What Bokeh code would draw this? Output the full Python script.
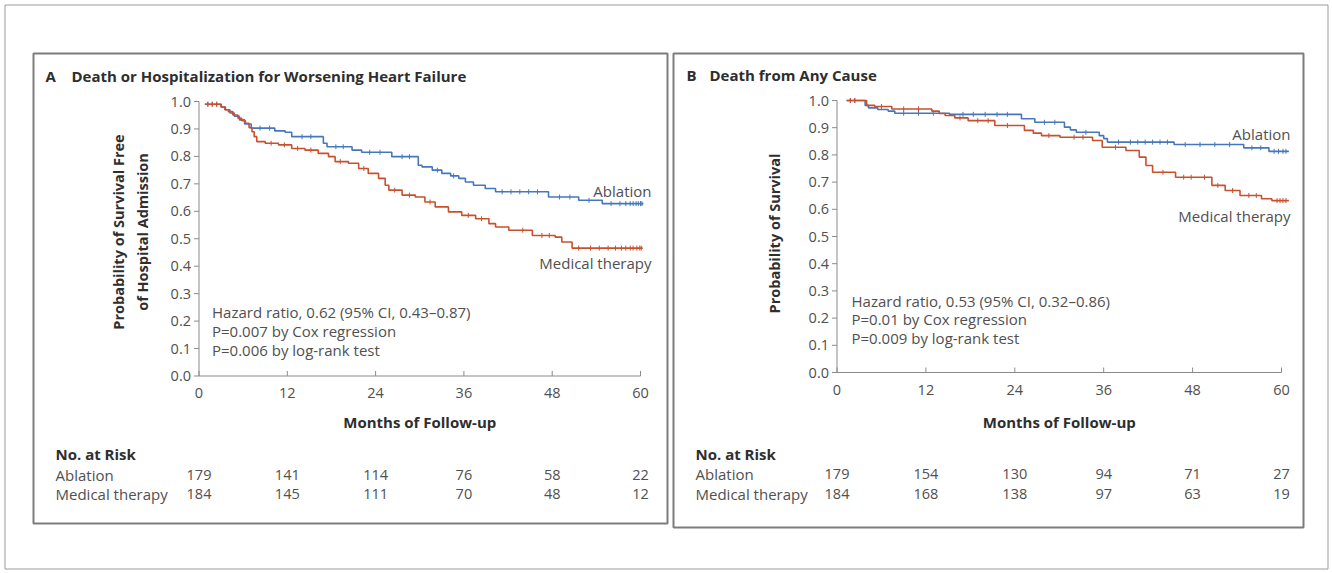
import numpy as np
from bokeh.plotting import figure
from bokeh.models import Range1d
from bokeh.core.properties import value
from bokeh.embed import file_html
from bokeh.resources import INLINE

# ---------------- data ----------------
x_ticks = [0, 12, 24, 36, 48, 60]
y_ticks = [0.0, 0.1, 0.2, 0.3, 0.4, 0.5, 0.6, 0.7, 0.8, 0.9, 1.0]
y_tick_labels = ["0.0", "0.1", "0.2", "0.3", "0.4", "0.5", "0.6", "0.7", "0.8", "0.9", "1.0"]

# Panel A: death or hospitalization for worsening heart failure
a_abl_t = [0.8, 3.0, 3.6, 4.2, 4.8, 5.5, 6.2, 7.1, 10.3, 11.7, 12.6, 16.9, 17.4, 20.8, 22.1,
           26.2, 29.8, 30.3, 31.7, 33.0, 34.2, 35.3, 36.2, 37.3, 38.9, 40.3, 47.5, 51.6, 54.8, 60.4]
a_abl_s = [0.990, 0.980, 0.970, 0.958, 0.946, 0.933, 0.918, 0.903, 0.893, 0.888, 0.872, 0.848, 0.835, 0.823, 0.815,
           0.799, 0.768, 0.762, 0.750, 0.738, 0.729, 0.720, 0.707, 0.695, 0.683, 0.671, 0.652, 0.640, 0.628, 0.628]
a_med_t = [0.8, 3.0, 3.5, 4.0, 4.6, 5.3, 5.8, 6.3, 6.8, 7.2, 7.5, 7.85, 9.0, 10.8, 12.6, 14.4, 16.2, 17.6,
           18.5, 20.3, 21.7, 23.0, 24.4, 25.3, 25.8, 27.6, 29.4, 30.7, 32.1, 33.9, 35.7, 37.6, 39.4, 40.3,
           42.1, 45.3, 48.4, 49.3, 50.7, 60.3]
a_med_s = [0.990, 0.980, 0.970, 0.963, 0.951, 0.939, 0.930, 0.921, 0.905, 0.890, 0.872, 0.854, 0.848, 0.842,
           0.829, 0.823, 0.811, 0.799, 0.781, 0.775, 0.756, 0.738, 0.720, 0.695, 0.677, 0.659, 0.652, 0.634,
           0.616, 0.598, 0.585, 0.573, 0.555, 0.543, 0.531, 0.512, 0.506, 0.488, 0.466, 0.466]
a_abl_cens = [1.2, 1.8, 2.4, 8.3, 9.6, 14.0, 15.2, 18.6, 19.6, 23.2, 24.6, 27.6, 28.6, 32.4, 34.6,
              41.2, 42.4, 43.6, 44.8, 46.0, 49.0, 50.4, 53.0, 56.0, 57.2, 58.0, 58.6, 59.0, 59.4,
              59.7, 60.0, 60.2]
a_med_cens = [1.2, 1.8, 2.4, 9.8, 11.6, 13.4, 15.2, 19.2, 22.4, 26.6, 28.6, 31.4, 36.6, 38.4, 44.0,
              46.6, 47.6, 51.6, 53.2, 54.4, 55.6, 56.6, 57.4, 58.0, 58.6, 59.0, 59.5, 59.9, 60.1]

# Panel B: death from any cause
b_abl_t = [1.3, 3.8, 4.25, 5.5, 6.9, 7.8, 15.2, 24.9, 26.7, 30.7, 31.5, 32.3, 35.4, 36.0, 36.5,
           45.5, 54.9, 58.3, 61.0]
b_abl_s = [1.000, 0.982, 0.973, 0.967, 0.961, 0.953, 0.949, 0.933, 0.920, 0.902, 0.892, 0.883, 0.871,
           0.860, 0.847, 0.838, 0.826, 0.813, 0.813]
b_med_t = [1.3, 4.0, 5.1, 7.4, 12.8, 13.8, 14.6, 15.9, 17.7, 21.3, 25.3, 26.5, 27.6, 30.1, 34.5, 35.8,
           39.0, 40.8, 41.7, 42.6, 45.7, 50.6, 52.4, 54.4, 57.3, 58.7, 61.0]
b_med_s = [1.000, 0.982, 0.978, 0.969, 0.961, 0.952, 0.945, 0.936, 0.926, 0.908, 0.890, 0.880, 0.871,
           0.865, 0.853, 0.828, 0.816, 0.792, 0.761, 0.736, 0.718, 0.688, 0.669, 0.651, 0.639, 0.632, 0.632]
b_abl_cens = [1.8, 2.4, 9.0, 11.0, 13.0, 17.0, 18.4, 20.0, 21.6, 23.0, 28.0, 29.4, 33.6, 38.0, 39.6,
              40.6, 41.6, 42.6, 43.6, 44.6, 47.0, 49.0, 51.0, 53.0, 56.0, 57.2, 59.0, 59.6, 60.2, 60.6]
b_med_cens = [1.8, 2.4, 6.0, 9.0, 11.0, 16.6, 19.0, 20.4, 23.0, 28.6, 32.0, 33.2, 37.6, 44.0, 46.8,
              47.8, 49.6, 51.4, 53.4, 55.6, 56.6, 59.4, 59.8, 60.2, 60.6]

# Number at risk
risk_a_abl = [179, 141, 114, 76, 58, 22]
risk_a_med = [184, 145, 111, 70, 48, 12]
risk_b_abl = [179, 154, 130, 94, 71, 27]
risk_b_med = [184, 168, 138, 97, 63, 19]

# Texts
title_a = "Death or Hospitalization for Worsening Heart Failure"
title_b = "Death from Any Cause"
ylab_a = ["Probability of Survival Free", "of Hospital Admission"]
ylab_b = "Probability of Survival"
xlab = "Months of Follow-up"
hazard_a = ["Hazard ratio, 0.62 (95% CI, 0.43\u20130.87)", "P=0.007 by Cox regression", "P=0.006 by log-rank test"]
hazard_b = ["Hazard ratio, 0.53 (95% CI, 0.32\u20130.86)", "P=0.01 by Cox regression", "P=0.009 by log-rank test"]
group_names = ["Ablation", "Medical therapy"]
risk_title = "No. at Risk"

# ---------------- layout / style ----------------
W, H = 1332, 573
OX, OY = 0, 0
FONT = value("Open Sans")
FS = "15px"
FS_TICK = "14.5px"
FS_YLAB = "14.5px"
C_BLUE = "#4677bd"
C_RED = "#c8502e"
C_AX = "#8a8a8a"
C_TXT = "#2e2e2e"
C_SOFT = "#505050"

A_X0, A_X60, A_Y1, A_Y0 = 198.5, 640.0, 101.0, 375.5
B_X0, B_X60, B_Y1, B_Y0 = 836.5, 1281.0, 100.0, 372.0


def xrange_for(px0, px60):
    k = (px60 - px0) / 60.0
    start = -(px0 - OX) / k
    return Range1d(start=start, end=start + W / k)


def yrange_for(py1, py0):
    k = py0 - py1
    start = -((OY + H) - py0) / k
    return Range1d(start=start, end=start + H / k)


p = figure(width=W, height=H, x_range=Range1d(0, W), y_range=Range1d(H, 0),
           output_backend="svg", toolbar_location=None, title=None,
           x_axis_location=None, y_axis_location=None, min_border=0,
           outline_line_color=None, background_fill_color="white", border_fill_color="white")
p.grid.visible = False
p.extra_x_ranges = {"ax": xrange_for(A_X0, A_X60), "bx": xrange_for(B_X0, B_X60)}
p.extra_y_ranges = {"ay": yrange_for(A_Y1, A_Y0), "by": yrange_for(B_Y1, B_Y0)}


def txt(x, y, s, size=FS, bold=False, color=C_TXT, align="left", angle=0.0):
    p.text(x=[x - OX], y=[y - OY], text=[s], text_font=FONT, text_font_size=size,
           text_font_style="bold" if bold else "normal", text_color=color,
           text_align=align, text_baseline="middle", angle=angle)


# frames
p.quad(left=[4.5], right=[1327.5], top=[4.5], bottom=[568.5], fill_color=None,
       line_color="#9a9a9a", line_width=1)
p.quad(left=[33], right=[667], top=[53], bottom=[523], fill_color=None,
       line_color="#7c7c7c", line_width=2)
p.quad(left=[673], right=[1303], top=[53], bottom=[527], fill_color=None,
       line_color="#7c7c7c", line_width=2)


def draw_axes(xr, yr):
    kw = dict(x_range_name=xr, y_range_name=yr)
    p.segment(x0=[x_ticks[0], x_ticks[0]], y0=[y_ticks[0], y_ticks[0]],
              x1=[x_ticks[0], x_ticks[-1]], y1=[y_ticks[-1], y_ticks[0]],
              line_color=C_AX, line_width=1, **kw)
    p.ray(x=[x_ticks[0]] * len(y_ticks), y=y_ticks, length=5, length_units="screen",
          angle=np.pi, line_color=C_AX, line_width=1, **kw)
    p.ray(x=x_ticks, y=[y_ticks[0]] * len(x_ticks), length=5, length_units="screen",
          angle=np.pi / 2, line_color=C_AX, line_width=1, **kw)
    p.text(x=[x_ticks[0]] * len(y_ticks), y=y_ticks, text=y_tick_labels, x_offset=-8,
           text_align="right", text_baseline="middle", text_font=FONT, text_font_size=FS_TICK,
           text_color=C_SOFT, **kw)
    p.text(x=x_ticks, y=[y_ticks[0]] * len(x_ticks), text=[str(t) for t in x_ticks], y_offset=17,
           text_align="center", text_baseline="middle", text_font=FONT, text_font_size=FS_TICK,
           text_color=C_SOFT, **kw)


def draw_curve(t, s, cens, color, xr, yr):
    kw = dict(x_range_name=xr, y_range_name=yr)
    p.step(x=t, y=s, mode="after", line_color=color, line_width=1.6, **kw)
    ta = np.asarray(t)
    sa = np.asarray(s)
    idx = np.clip(np.searchsorted(ta, cens, side="right") - 1, 0, len(sa) - 1)
    p.scatter(x=cens, y=sa[idx], marker="dash", angle=np.pi / 2, size=5, line_color=color,
              line_width=1, **kw)


def draw_risk(r1, r2, y1, y2, xr):
    p.text(x=x_ticks, y=[y1 - OY] * len(x_ticks), text=[str(v) for v in r1], x_range_name=xr,
           text_align="center", text_baseline="middle", text_font=FONT, text_font_size=FS_TICK,
           text_color=C_SOFT)
    p.text(x=x_ticks, y=[y2 - OY] * len(x_ticks), text=[str(v) for v in r2], x_range_name=xr,
           text_align="center", text_baseline="middle", text_font=FONT, text_font_size=FS_TICK,
           text_color=C_SOFT)


# ---------- Panel A ----------
draw_axes("ax", "ay")
draw_curve(a_abl_t, a_abl_s, a_abl_cens, C_BLUE, "ax", "ay")
draw_curve(a_med_t, a_med_s, a_med_cens, C_RED, "ax", "ay")
txt(45, 75, "A", bold=True)
txt(71, 75, title_a, bold=True)
txt(118, 231.5, ylab_a[0], size=FS_YLAB, bold=True, align="center", angle=np.pi / 2)
txt(141.5, 231.5, ylab_a[1], size=FS_YLAB, bold=True, align="center", angle=np.pi / 2)
for i, line in enumerate(hazard_a):
    txt(211.5, 311 + 19 * i, line, color=C_SOFT)
txt(651, 190, group_names[0], color=C_SOFT, align="right")
txt(651, 262, group_names[1], color=C_SOFT, align="right")
txt((A_X0 + A_X60) / 2, 421, xlab, bold=True, align="center")
txt(55, 453, risk_title, bold=True)
txt(55, 474, group_names[0], color=C_SOFT)
txt(55, 493, group_names[1], color=C_SOFT)
draw_risk(risk_a_abl, risk_a_med, 474, 493, "ax")

# ---------- Panel B ----------
draw_axes("bx", "by")
draw_curve(b_abl_t, b_abl_s, b_abl_cens, C_BLUE, "bx", "by")
draw_curve(b_med_t, b_med_s, b_med_cens, C_RED, "bx", "by")
txt(686, 74, "B", bold=True)
txt(709, 74, title_b, bold=True)
txt(774, 233, ylab_b, size=FS_YLAB, bold=True, align="center", angle=np.pi / 2)
for i, line in enumerate(hazard_b):
    txt(851, 300 + 18.5 * i, line, color=C_SOFT)
txt(1290, 133, group_names[0], color=C_SOFT, align="right")
txt(1290, 215, group_names[1], color=C_SOFT, align="right")
txt((B_X0 + B_X60) / 2, 421, xlab, bold=True, align="center")
txt(695, 453, risk_title, bold=True)
txt(695, 473, group_names[0], color=C_SOFT)
txt(695, 493, group_names[1], color=C_SOFT)
draw_risk(risk_b_abl, risk_b_med, 473, 493, "bx")

open("out.html", "w").write(file_html(p, INLINE))
